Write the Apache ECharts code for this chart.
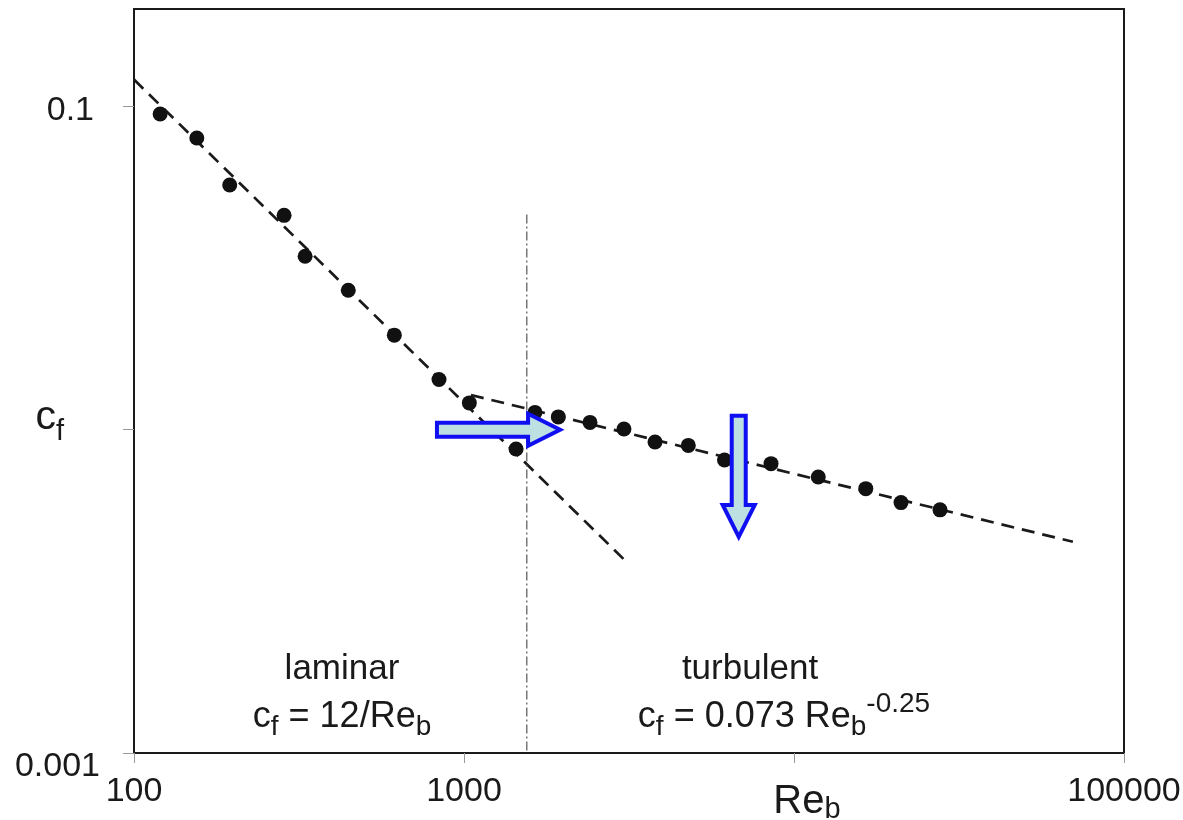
<!DOCTYPE html>
<html>
<head>
<meta charset="utf-8">
<script src="https://cdn.jsdelivr.net/npm/echarts@6/dist/echarts.min.js"></script>
<style>
  html, body { margin: 0; padding: 0; background: #fff; }
  #chart { width: 1183px; height: 820px; }
</style>
</head>
<body>
<div id="chart"></div>
<script>
// Measured skin-friction coefficients
const reLaminar = [120, 155, 195, 285, 330, 446, 615, 840, 1038, 1438];
const cfLaminar = [0.0947, 0.0798, 0.0571, 0.0460, 0.0344, 0.0270, 0.0196, 0.01429, 0.0121, 0.00871];
const reTurbulent = [1641, 1931, 2409, 3053, 3792, 4783, 6157, 8518, 11845, 16500, 21100, 27700];
const cfTurbulent = [0.01131, 0.01095, 0.01053, 0.01005, 0.00916, 0.00894, 0.00806, 0.00785, 0.00714, 0.00657, 0.00595, 0.00565];

// Correlation lines (end points)
const laminarFitRe = [100, 3100];
const laminarFitCf = [0.121, 0.00391];
const turbulentFitRe = [1050, 70000];
const turbulentFitCf = [0.0128, 0.0045];

// Transition marker
const transitionRe = [1550, 1550];
const transitionCf = [0.0463, 0.001];

// Axis ticks
const xTicks = [100, 1000, 10000, 100000];
const yTicks = [0.001, 0.01, 0.1];

// Arrows: start and end points
const arrowFromRe = [828, 6800];
const arrowFromCf = [0.01, 0.01105];
const arrowToRe = [1955, 6800];
const arrowToCf = [0.01, 0.00466];

const FONT = '"Liberation Sans", Arial, sans-serif';
const INK = '#1a1a1a';

const zip = (xs, ys) => xs.map((x, i) => [x, ys[i]]);

const chart = echarts.init(document.getElementById('chart'), null, { renderer: 'canvas' });

function arrowItem(params, api) {
  const p0 = api.coord([api.value(0), api.value(1)]);
  const p1 = api.coord([api.value(2), api.value(3)]);
  const dx = p1[0] - p0[0], dy = p1[1] - p0[1];
  const len = Math.hypot(dx, dy);
  const ux = dx / len, uy = dy / len;
  const nx = -uy, ny = ux;
  const head = 32, hw = 16, sw = 7;
  const bx = p1[0] - ux * head, by = p1[1] - uy * head;
  const pts = [
    [p0[0] + nx * sw, p0[1] + ny * sw],
    [bx + nx * sw, by + ny * sw],
    [bx + nx * hw, by + ny * hw],
    [p1[0], p1[1]],
    [bx - nx * hw, by - ny * hw],
    [bx - nx * sw, by - ny * sw],
    [p0[0] - nx * sw, p0[1] - ny * sw]
  ];
  return {
    type: 'polygon',
    shape: { points: pts },
    style: { fill: '#bde0e3', stroke: '#0f0ff2', lineWidth: 4, lineJoin: 'miter' }
  };
}

const option = {
  animation: false,
  backgroundColor: '#ffffff',
  grid: {
    left: 134, right: 59, top: 9, bottom: 67,
    show: true, borderColor: INK, borderWidth: 2,
    containLabel: false, outerBoundsMode: 'none'
  },
  xAxis: {
    type: 'log', logBase: 10, min: 100, max: 100000,
    axisLine: { show: true, onZero: false, lineStyle: { color: INK, width: 2 } },
    axisTick: { show: true, inside: false, length: 10, customValues: xTicks, lineStyle: { color: '#999', width: 1 } },
    splitLine: { show: false },
    axisLabel: {
      customValues: xTicks,
      margin: 22,
      fontFamily: FONT, fontSize: 34, color: INK,
      formatter: function (v) {
        const e = Math.round(Math.log10(v));
        if (e === 4) return '{re|Re}{b|b}';
        return String(Math.round(Math.pow(10, e)));
      },
      rich: {
        re: { fontFamily: FONT, fontSize: 40, color: INK, padding: [4, 0, 0, 26] },
        b: { fontFamily: FONT, fontSize: 29, color: INK, padding: [20, 0, 0, 0] }
      }
    }
  },
  yAxis: {
    type: 'log', logBase: 10, min: 0.001, max: 0.2,
    axisLine: { show: true, onZero: false, lineStyle: { color: INK, width: 2 } },
    axisTick: { show: true, inside: false, length: 11, customValues: yTicks, lineStyle: { color: '#999', width: 1 } },
    splitLine: { show: false },
    axisLabel: {
      customValues: yTicks,
      margin: 34,
      fontFamily: FONT, fontSize: 34, color: INK,
      formatter: function (v) {
        const e = Math.round(Math.log10(v));
        if (e === -1) return '{hi|0.1}';
        if (e === -2) return '{c|c}{f|f}';
        return '{lo|0.001}';
      },
      rich: {
        hi: { fontFamily: FONT, fontSize: 34, color: INK, padding: [8, 6, 0, 0] },
        lo: { fontFamily: FONT, fontSize: 34, color: INK, padding: [28, 0, 0, 0] },
        c: { fontFamily: FONT, fontSize: 41, color: INK, padding: [0, 0, 24, 0] },
        f: { fontFamily: FONT, fontSize: 29, color: INK, padding: [4, 36, 0, 0] }
      }
    }
  },
  series: [
    {
      name: 'laminar fit', type: 'line', data: zip(laminarFitRe, laminarFitCf),
      symbol: 'none', silent: true, z: 2,
      lineStyle: { color: INK, width: 2.7, type: [13, 8] }
    },
    {
      name: 'turbulent fit', type: 'line', data: zip(turbulentFitRe, turbulentFitCf),
      symbol: 'none', silent: true, z: 2,
      lineStyle: { color: INK, width: 2.7, type: [13, 8] }
    },
    {
      name: 'transition', type: 'line', data: zip(transitionRe, transitionCf),
      symbol: 'none', silent: true, z: 2,
      lineStyle: { color: '#555', width: 1.2, type: [9, 3, 2, 3] }
    },
    {
      name: 'laminar', type: 'scatter', data: zip(reLaminar, cfLaminar),
      symbol: 'circle', symbolSize: 15, z: 3,
      itemStyle: { color: '#111', opacity: 1 }
    },
    {
      name: 'turbulent', type: 'scatter', data: zip(reTurbulent, cfTurbulent),
      symbol: 'circle', symbolSize: 15, z: 3,
      itemStyle: { color: '#111', opacity: 1 }
    },
    {
      name: 'arrows', type: 'custom', z: 4, silent: true,
      data: arrowFromRe.map((r, i) => [r, arrowFromCf[i], arrowToRe[i], arrowToCf[i]]),
      encode: { x: [0, 2], y: [1, 3] },
      renderItem: arrowItem
    }
  ],
  graphic: [
    {
      type: 'text', x: 342, y: 669,
      style: { text: 'laminar', fontFamily: FONT, fontSize: 35, fill: INK, align: 'center', verticalAlign: 'middle' }
    },
    {
      type: 'text', x: 342, y: 717,
      style: {
        text: '{m|c}{s|f}{m| = 12/Re}{s|b}',
        align: 'center', verticalAlign: 'middle',
        rich: {
          m: { fontFamily: FONT, fontSize: 36, fill: INK },
          s: { fontFamily: FONT, fontSize: 28, fill: INK, padding: [20, 0, 0, 0] }
        }
      }
    },
    {
      type: 'text', x: 750, y: 669,
      style: { text: 'turbulent', fontFamily: FONT, fontSize: 35, fill: INK, align: 'center', verticalAlign: 'middle' }
    },
    {
      type: 'text', x: 784, y: 717,
      style: {
        text: '{m|c}{s|f}{m| = 0.073 Re}{s|b}{p|-0.25}',
        align: 'center', verticalAlign: 'middle',
        rich: {
          m: { fontFamily: FONT, fontSize: 36, fill: INK },
          s: { fontFamily: FONT, fontSize: 28, fill: INK, padding: [20, 0, 0, 0] },
          p: { fontFamily: FONT, fontSize: 28, fill: INK, padding: [0, 0, 26, 0] }
        }
      }
    }
  ]
};

chart.setOption(option);
</script>
</body>
</html>
